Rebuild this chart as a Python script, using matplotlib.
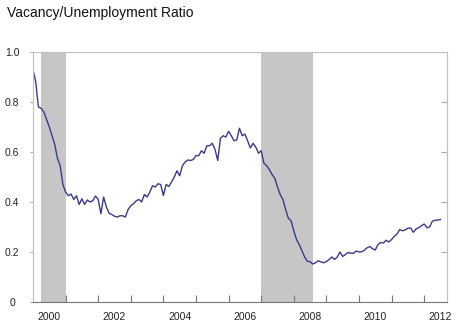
import matplotlib.pyplot as plt

# monthly vacancy/unemployment ratio, Dec 2000 (index 0) to Jun 2012
ratio = [
    0.93, 0.88, 0.78, 0.775, 0.76, 0.73, 0.70, 0.665, 0.63, 0.575,
    0.545, 0.47, 0.44, 0.425, 0.432, 0.41, 0.425, 0.39, 0.413, 0.39,
    0.408, 0.40, 0.405, 0.424, 0.41, 0.353, 0.42, 0.38, 0.355, 0.35,
    0.343, 0.34, 0.345, 0.345, 0.34, 0.37, 0.385, 0.393, 0.405, 0.41,
    0.40, 0.43, 0.42, 0.44, 0.465, 0.46, 0.473, 0.47, 0.426, 0.47,
    0.462, 0.48, 0.50, 0.525, 0.505, 0.545, 0.56, 0.568, 0.566, 0.57,
    0.586, 0.585, 0.605, 0.595, 0.625, 0.625, 0.635, 0.61, 0.566, 0.655,
    0.665, 0.66, 0.683, 0.665, 0.645, 0.648, 0.695, 0.665, 0.672, 0.645,
    0.616, 0.635, 0.62, 0.595, 0.605, 0.555, 0.545, 0.53, 0.51, 0.495,
    0.46, 0.43, 0.41, 0.37, 0.335, 0.325, 0.285, 0.25, 0.23, 0.205,
    0.18, 0.163, 0.161, 0.152, 0.157, 0.165, 0.16, 0.157, 0.162, 0.17,
    0.18, 0.17, 0.18, 0.20, 0.182, 0.19, 0.198, 0.195, 0.195, 0.204,
    0.20, 0.201, 0.207, 0.217, 0.222, 0.213, 0.208, 0.23, 0.238, 0.236,
    0.247, 0.24, 0.25, 0.263, 0.272, 0.29, 0.285, 0.288, 0.295, 0.296,
    0.279, 0.292, 0.297, 0.305, 0.312, 0.297, 0.30, 0.323, 0.327, 0.328,
    0.33,
]
months = list(range(len(ratio)))

# recessions (month index): Mar-Nov 2001, Dec 2007-Jun 2009
recessions = [(3, 12), (84, 103)]

year_ticks = [12, 24, 36, 48, 60, 72, 84, 96, 108, 120, 132, 144]
label_pos = [6, 30, 54, 78, 102, 126, 150]
year_labels = ["2000", "2002", "2004", "2006", "2008", "2010", "2012"]
y_ticks = [0, 0.2, 0.4, 0.6, 0.8, 1.0]
y_labels = ["0", "0.2", "0.4", "0.6", "0.8", "1.0"]

plt.rcParams['font.family'] = ['Liberation Sans', 'DejaVu Sans']

fig = plt.figure(figsize=(4.59, 3.29), dpi=100)
ax = fig.add_axes([33 / 459, 27 / 329, 414 / 459, 250 / 329])

for start, end in recessions:
    ax.axvspan(start, end, color='#c6c6c6', lw=0)

ax.plot(months, ratio, color='#3a3a8a', lw=1.0)

ax.set_xlim(0, 152.4)
ax.set_ylim(0, 1.0)

ax.set_xticks(year_ticks)
ax.set_xticklabels([])
ax.set_xticks(label_pos, year_labels, minor=True)
ax.tick_params(axis='x', which='major', direction='in', length=5,
               color='#777777', width=0.8)
ax.tick_params(axis='x', which='minor', length=0, pad=7, labelsize=7.5,
               labelcolor='#222222')

ax.set_yticks(y_ticks, y_labels)
ax.tick_params(axis='y', direction='out', length=2, color='#aaaaaa',
               width=0.8, pad=13, labelsize=7.5, labelcolor='#222222',
               right=True)
plt.setp(ax.get_yticklabels(), ha='center')
# right side ticks point inward
for t in ax.yaxis.get_major_ticks():
    t.tick2line.set_marker(0)
    t.tick2line.set_markersize(4)

for side in ['left', 'top', 'right']:
    ax.spines[side].set_color('#c0c0c0')
    ax.spines[side].set_linewidth(0.8)
ax.spines['bottom'].set_color('#777777')
ax.spines['bottom'].set_linewidth(0.8)

fig.text(7 / 459, 1 - 13 / 329, "Vacancy/Unemployment Ratio",
         fontsize=10, va='center', ha='left', color='#111111')

fig.savefig("out.png", dpi=100)
